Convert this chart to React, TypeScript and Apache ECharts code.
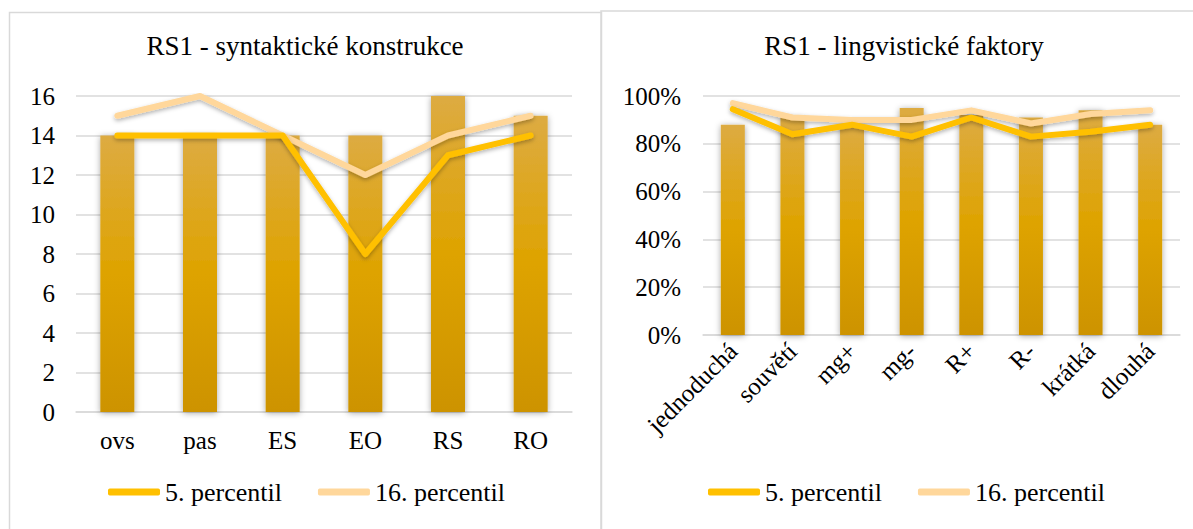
import React, { useEffect, useRef } from "react";
import * as echarts from "echarts";

const leftCategories = ["ovs", "pas", "ES", "EO", "RS", "RO"];
const leftBars = [14, 14, 14, 14, 16, 15];
const left5 = [14, 14, 14, 8, 13, 14];
const left16 = [15, 16, 14, 12, 14, 15];

const rightCategories = ["jednoduchá", "souvětí", "mg+", "mg-", "R+", "R-", "krátká", "dlouhá"];
const rightBars = [0.88, 0.91, 0.88, 0.95, 0.92, 0.91, 0.94, 0.88];
const right5 = [0.945, 0.84, 0.88, 0.83, 0.91, 0.83, 0.85, 0.88];
const right16 = [0.97, 0.91, 0.9, 0.9, 0.94, 0.885, 0.925, 0.94];

const leftTitle = "RS1 - syntaktické konstrukce";
const rightTitle = "RS1 - lingvistické faktory";
const seriesNames = ["5. percentil", "16. percentil"];

const FONT = "Liberation Serif";
const GRID_COLOR = "#D9D9D9";
const C5 = "#FFC000";
const C16 = "#FFD79B";

const barGradient = new echarts.graphic.LinearGradient(0, 0, 0, 1, [
  { offset: 0, color: "#DDAB42" },
  { offset: 0.5, color: "#DEA300" },
  { offset: 1, color: "#CD9300" },
]);

function barSeries(data: number[], idx: number, width: number) {
  return {
    type: "bar",
    name: "bars" + idx,
    xAxisIndex: idx,
    yAxisIndex: idx,
    data,
    barWidth: width,
    itemStyle: {
      color: barGradient,
      shadowColor: "rgba(0,0,0,0.35)",
      shadowBlur: 6,
      shadowOffsetY: 1,
    },
    z: 2,
  };
}

function lineSeries(name: string, data: number[], idx: number, color: string, z: number) {
  return {
    type: "line",
    name,
    xAxisIndex: idx,
    yAxisIndex: idx,
    data,
    symbol: "none",
    lineStyle: {
      color,
      width: 6,
      cap: "round",
      join: "round",
      shadowColor: "rgba(0,0,0,0.3)",
      shadowBlur: 4,
      shadowOffsetY: 2,
    },
    itemStyle: { color },
    z,
  };
}

export default function App() {
  const ref = useRef<HTMLDivElement>(null);
  useEffect(() => {
    if (!ref.current) return;
    const chart = echarts.init(ref.current, null, { renderer: "svg" });
    const axisLabel = { fontFamily: FONT, fontSize: 25, color: "#000" };
    const titleStyle = { fontFamily: FONT, fontSize: 27, fontWeight: "normal", color: "#000" };
    const legendBase = {
      data: seriesNames, top: 479, padding: 0, itemGap: 36, itemWidth: 52, itemHeight: 7,
      icon: "roundRect", textStyle: { fontFamily: FONT, fontSize: 26, color: "#000" },
    };
    chart.setOption({
      animation: false,
      backgroundColor: "#fff",
      title: [
        { text: leftTitle, left: 305, top: 32, textAlign: "center", padding: 0, textStyle: titleStyle },
        { text: rightTitle, left: 904, top: 32, textAlign: "center", padding: 0, textStyle: titleStyle },
      ],
      legend: [
        { ...legendBase, left: 108 },
        { ...legendBase, left: 708 },
      ],
      graphic: [
        { type: "rect", shape: { x: 9.5, y: 12.5, width: 592, height: 540 },
          style: { fill: "none", stroke: GRID_COLOR, lineWidth: 1.5 }, silent: true },
        { type: "rect", shape: { x: 601, y: 11, width: 620, height: 540 },
          style: { fill: "none", stroke: GRID_COLOR, lineWidth: 1.5 }, silent: true },
      ],
      grid: [
        { left: 76, right: 1193 - 572, top: 96, bottom: 529 - 412 },
        { left: 703, right: 1193 - 1180, top: 96, bottom: 529 - 335 },
      ],
      xAxis: [
        { type: "category", gridIndex: 0, data: leftCategories,
          axisTick: { show: false }, axisLine: { lineStyle: { color: GRID_COLOR, width: 1.5 } },
          axisLabel: { ...axisLabel, margin: 16 } },
        { type: "category", gridIndex: 1, data: rightCategories,
          axisTick: { show: false }, axisLine: { lineStyle: { color: GRID_COLOR, width: 1.5 } },
          axisLabel: { ...axisLabel, rotate: 45, margin: 12, interval: 0 } },
      ],
      yAxis: [
        { type: "value", gridIndex: 0, min: 0, max: 16, interval: 2,
          axisLine: { show: false }, axisTick: { show: false },
          splitLine: { lineStyle: { color: GRID_COLOR, width: 1.5 } },
          axisLabel: { ...axisLabel, margin: 21 } },
        { type: "value", gridIndex: 1, min: 0, max: 1, interval: 0.2,
          axisLine: { show: false }, axisTick: { show: false },
          splitLine: { lineStyle: { color: GRID_COLOR, width: 1.5 } },
          axisLabel: { ...axisLabel, margin: 22, formatter: (v: number) => Math.round(v * 100) + "%" } },
      ],
      series: [
        barSeries(leftBars, 0, 34),
        lineSeries(seriesNames[1], left16, 0, C16, 3),
        lineSeries(seriesNames[0], left5, 0, C5, 4),
        barSeries(rightBars, 1, 24),
        lineSeries(seriesNames[1], right16, 1, C16, 3),
        lineSeries(seriesNames[0], right5, 1, C5, 4),
      ],
    });
    return () => chart.dispose();
  }, []);
  return (
    <div
      ref={ref}
      style={{ position: "fixed", left: 0, top: 0, width: 1193, height: 529, background: "#fff" }}
    />
  );
}
